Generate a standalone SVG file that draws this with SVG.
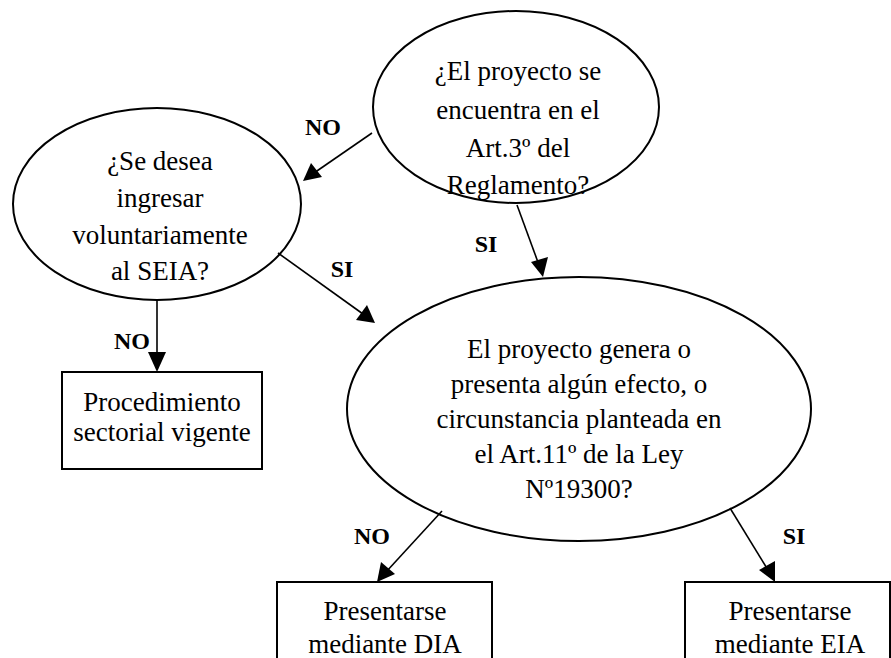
<svg xmlns="http://www.w3.org/2000/svg" width="891" height="658" viewBox="0 0 891 658">
<style>
.shape{fill:#fff;stroke:#000;stroke-width:2}
text{font-family:"Liberation Serif","Times New Roman",Times,serif;fill:#000;text-anchor:middle}
.t{font-size:27px}
.lbl{font-size:24px;font-weight:bold}
.c{stroke:#000;stroke-width:1.6;fill:none}
.head{fill:#000;stroke:none}
</style>
<rect width="891" height="658" fill="#fff"/>
<g id="q1">
<ellipse class="shape" cx="516" cy="107" rx="143" ry="96"/>
<text class="t" x="518" y="80">¿El proyecto se</text>
<text class="t" x="518" y="119">encuentra en el</text>
<text class="t" x="518" y="157">Art.3º del</text>
<text class="t" x="518" y="194">Reglamento?</text>
</g>
<g id="q2">
<ellipse class="shape" cx="157" cy="204" rx="144" ry="96"/>
<text class="t" x="160" y="170">¿Se desea</text>
<text class="t" x="160" y="207">ingresar</text>
<text class="t" x="160" y="244">voluntariamente</text>
<text class="t" x="160" y="280">al SEIA?</text>
</g>
<g id="q3">
<ellipse class="shape" cx="579" cy="409" rx="232" ry="132"/>
<text class="t" x="579" y="358">El proyecto genera o</text>
<text class="t" x="579" y="393">presenta algún efecto, o</text>
<text class="t" x="579" y="428">circunstancia planteada en</text>
<text class="t" x="579" y="463">el Art.11º de la Ley</text>
<text class="t" x="579" y="498">Nº19300?</text>
</g>
<g id="b1">
<rect class="shape" x="62" y="372" width="200" height="97"/>
<text class="t" x="162" y="411">Procedimiento</text>
<text class="t" x="162" y="441">sectorial vigente</text>
</g>
<g id="b2">
<rect class="shape" x="277" y="582" width="215" height="100"/>
<text class="t" x="385" y="620">Presentarse</text>
<text class="t" x="385" y="653">mediante DIA</text>
</g>
<g id="b3">
<rect class="shape" x="685" y="582" width="205" height="100"/>
<text class="t" x="790" y="620">Presentarse</text>
<text class="t" x="790" y="653">mediante EIA</text>
</g>
<g id="connectors">
<line class="c" x1="372" y1="133" x2="314" y2="173"/>
<polygon class="head" points="303,181 311,163 322,177"/>
<line class="c" x1="517" y1="205" x2="539" y2="265"/>
<polygon class="head" points="543,277 531,262 548,257"/>
<line class="c" x1="278" y1="253" x2="363" y2="314"/>
<polygon class="head" points="375,323 356,320 367,305"/>
<line class="c" x1="157" y1="300" x2="157" y2="355"/>
<polygon class="head" points="157,372 148,352 166,352"/>
<line class="c" x1="442" y1="511" x2="386" y2="572"/>
<polygon class="head" points="377,582 381,562 395,574"/>
<line class="c" x1="730" y1="508" x2="768" y2="570"/>
<polygon class="head" points="775,582 759,570 775,561"/>
<text class="lbl" x="323" y="135">NO</text>
<text class="lbl" x="486" y="252">SI</text>
<text class="lbl" x="342" y="277">SI</text>
<text class="lbl" x="132" y="349">NO</text>
<text class="lbl" x="372" y="544">NO</text>
<text class="lbl" x="794" y="544">SI</text>
</g>
</svg>
